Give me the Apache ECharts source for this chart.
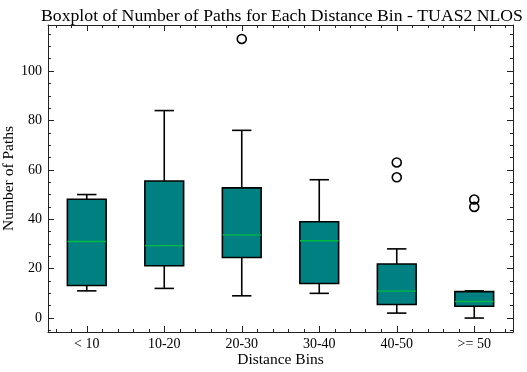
<!DOCTYPE html>
<html>
<head>
<meta charset="utf-8">
<script src="https://cdn.jsdelivr.net/npm/echarts@6/dist/echarts.min.js"></script>
<style>
  html, body { margin: 0; padding: 0; background: #fff; }
  #chart { width: 527px; height: 372px; }
</style>
</head>
<body>
<div id="chart"></div>
<script>
// distance bins and box statistics
const categories = ['< 10', '10-20', '20-30', '30-40', '40-50', '>= 50']
const whiskerLow = [11, 12, 9, 10, 2, 0]
const q1 = [13.2, 21.2, 24.5, 14, 5.5, 4.8]
const median = [31, 29.3, 33.7, 31.3, 10.9, 6.7]
const q3 = [48.1, 55.5, 52.7, 39, 21.9, 10.7]
const whiskerHigh = [50, 84, 76, 56, 28, 11]
// [bin index, value]
const outliers = [[2, 113], [4, 63], [4, 57], [5, 48], [5, 45]]

const yMajor = [0, 20, 40, 60, 80, 100]

// minor tick positions (like matplotlib's AutoMinorLocator)
const yMinor = []
for (let v = -5; v <= 115; v += 5) if (v % 20 !== 0) yMinor.push(v)
const xMinor = []
for (let i = 3; i <= 32; i++) if (i % 5 !== 0) xMinor.push(i / 5)

const FONT = 'Liberation Serif'
const BOX_FILL = '#008080'
const MEDIAN = '#00B945'

const chart = echarts.init(document.getElementById('chart'))

const boxData = categories.map((c, i) => [i, whiskerLow[i], q1[i], median[i], q3[i], whiskerHigh[i]])

function renderBox(params, api) {
  const x = api.value(0)
  const lo = api.coord([x, api.value(1)])
  const b1 = api.coord([x, api.value(2)])
  const md = api.coord([x, api.value(3)])
  const b3 = api.coord([x, api.value(4)])
  const hi = api.coord([x, api.value(5)])
  const band = api.size([1, 0])[0]
  const hw = band * 0.25   // box half width (width 0.5)
  const cw = band * 0.125  // cap half width
  const cx = lo[0]
  const line = { stroke: '#000', lineWidth: 1.6 }
  return {
    type: 'group',
    children: [
      {
        type: 'rect',
        shape: { x: cx - hw, y: b3[1], width: hw * 2, height: b1[1] - b3[1] },
        style: { fill: BOX_FILL, stroke: '#000', lineWidth: 1.6 }
      },
      { type: 'line', shape: { x1: cx, y1: b1[1], x2: cx, y2: lo[1] }, style: line },
      { type: 'line', shape: { x1: cx, y1: b3[1], x2: cx, y2: hi[1] }, style: line },
      { type: 'line', shape: { x1: cx - cw, y1: lo[1], x2: cx + cw, y2: lo[1] }, style: line },
      { type: 'line', shape: { x1: cx - cw, y1: hi[1], x2: cx + cw, y2: hi[1] }, style: line },
      {
        type: 'line',
        shape: { x1: cx - hw, y1: md[1], x2: cx + hw, y2: md[1] },
        style: { stroke: MEDIAN, lineWidth: 1.3 }
      }
    ]
  }
}

const axisLine = { show: true, onZero: false, lineStyle: { color: '#222', width: 1 } }
const noLine = { show: false, onZero: false }
const majorTick = { show: true, inside: true, length: 6, lineStyle: { color: '#222', width: 1 } }
const minorTickStyle = { show: true, inside: true, length: 3, lineStyle: { color: '#222', width: 1 } }

const option = {
  animation: false,
  title: {
    text: 'Boxplot of Number of Paths for Each Distance Bin - TUAS2 NLOS',
    left: 277,
    textAlign: 'center',
    top: 2,
    textStyle: { fontFamily: FONT, fontSize: 17.7, fontWeight: 'normal', color: '#000' }
  },
  grid: { left: 48, right: 14, top: 25, bottom: 40, outerBoundsMode: 'none', containLabel: false },
  xAxis: [
    {
      type: 'category',
      data: categories,
      position: 'bottom',
      boundaryGap: true,
      axisLine,
      axisTick: { ...majorTick, alignWithLabel: true },
      axisLabel: { fontFamily: FONT, fontSize: 14, color: '#000', margin: 5 },
      splitLine: { show: false },
      name: 'Distance Bins',
      nameLocation: 'middle',
      nameGap: 20,
      nameMoveOverlap: false,
      nameTextStyle: { fontFamily: FONT, fontSize: 15.5, color: '#000' }
    },
    {
      type: 'value', min: 0.5, max: 6.5, position: 'bottom',
      axisLine: noLine,
      axisTick: { ...minorTickStyle, customValues: xMinor },
      axisLabel: { show: false },
      splitLine: { show: false }
    },
    {
      type: 'category',
      data: categories,
      position: 'top',
      boundaryGap: true,
      axisLine,
      axisTick: { ...majorTick, alignWithLabel: true },
      axisLabel: { show: false },
      splitLine: { show: false }
    },
    {
      type: 'value', min: 0.5, max: 6.5, position: 'top',
      axisLine: noLine,
      axisTick: { ...minorTickStyle, customValues: xMinor },
      axisLabel: { show: false },
      splitLine: { show: false }
    }
  ],
  yAxis: [
    {
      type: 'value', min: -5.65, max: 118.65, position: 'left',
      axisLine,
      axisTick: { ...majorTick, customValues: yMajor },
      axisLabel: { customValues: yMajor, fontFamily: FONT, fontSize: 14, color: '#000', margin: 6 },
      splitLine: { show: false },
      name: 'Number of Paths',
      nameLocation: 'middle',
      nameGap: 31,
      nameMoveOverlap: false,
      nameTextStyle: { fontFamily: FONT, fontSize: 15.5, color: '#000' }
    },
    {
      type: 'value', min: -5.65, max: 118.65, position: 'left',
      axisLine: noLine,
      axisTick: { ...minorTickStyle, customValues: yMinor },
      axisLabel: { show: false },
      splitLine: { show: false }
    },
    {
      type: 'value', min: -5.65, max: 118.65, position: 'right',
      axisLine,
      axisTick: { ...majorTick, customValues: yMajor },
      axisLabel: { show: false },
      splitLine: { show: false }
    },
    {
      type: 'value', min: -5.65, max: 118.65, position: 'right',
      axisLine: noLine,
      axisTick: { ...minorTickStyle, customValues: yMinor },
      axisLabel: { show: false },
      splitLine: { show: false }
    }
  ],
  series: [
    {
      type: 'custom',
      xAxisIndex: 0,
      yAxisIndex: 0,
      renderItem: renderBox,
      encode: { x: 0, y: [1, 2, 3, 4, 5] },
      data: boxData
    },
    {
      type: 'scatter',
      xAxisIndex: 0,
      yAxisIndex: 0,
      symbol: 'circle',
      symbolSize: 9,
      itemStyle: { color: 'rgba(0,0,0,0)', borderColor: '#000', borderWidth: 1.6, opacity: 1 },
      data: outliers
    }
  ]
}

chart.setOption(option)
</script>
</body>
</html>
